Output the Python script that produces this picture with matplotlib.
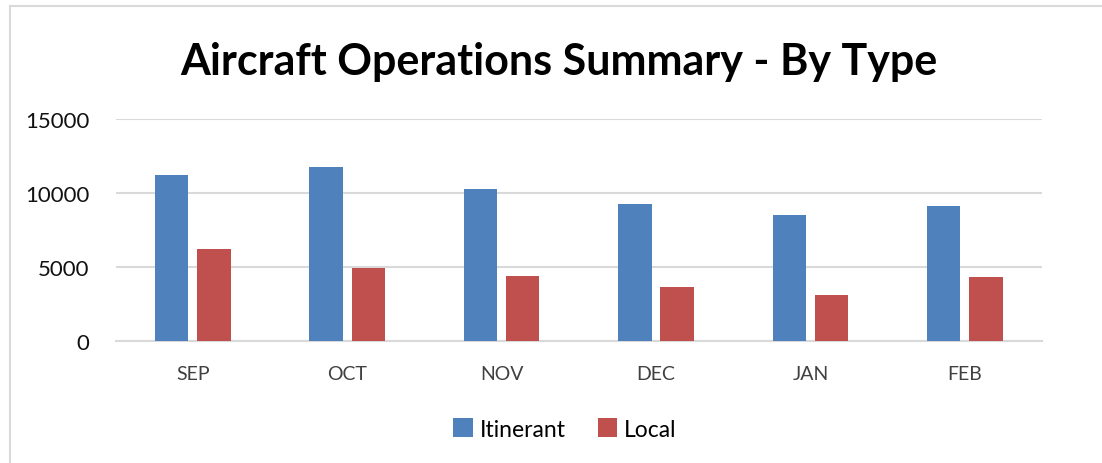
import matplotlib
matplotlib.use("Agg")
import matplotlib.pyplot as plt
import numpy as np

plt.rcParams['font.family'] = ['Lato', 'DejaVu Sans']

months = ['SEP', 'OCT', 'NOV', 'DEC', 'JAN', 'FEB']
itinerant = [11250, 11760, 10290, 9260, 8510, 9100]
local = [6250, 4930, 4390, 3650, 3090, 4360]
yticks = [0, 5000, 10000, 15000]

blue = '#4F81BD'
red = '#C0504D'

fig = plt.figure(figsize=(11.02, 4.64), dpi=100)
ax = fig.add_axes([0.105, 0.2623, 0.8405, 0.4791])

x = np.arange(len(months))
w = 0.216
off = 0.137
ax.bar(x - off, itinerant, w, color=blue, label='Itinerant', zorder=3)
ax.bar(x + off, local, w, color=red, label='Local', zorder=3)

ax.set_xlim(-0.5, len(months) - 0.5)
ax.set_ylim(0, 15000)
ax.set_yticks(yticks)
ax.set_yticklabels([str(t) for t in yticks], fontsize=16, color='#111111')
ax.set_xticks(x)
ax.set_xticklabels(months, fontsize=14, color='#404040')
ax.tick_params(axis='both', length=0)
ax.tick_params(axis='y', pad=19)
ax.tick_params(axis='x', pad=17)
ax.grid(axis='y', color='#d9d9d9', linewidth=1.5, zorder=0)
for s in ['top', 'right', 'left']:
    ax.spines[s].set_visible(False)
ax.spines['bottom'].set_color('#d9d9d9')
ax.spines['bottom'].set_linewidth(1.5)

fig.text(0.507, 0.866, 'Aircraft Operations Summary - By Type', ha='center', va='center',
         fontsize=31, fontweight='bold', color='black')

fig.legend(loc='center', bbox_to_anchor=(0.5125, 1 - 430 / 464), ncol=2, frameon=False,
           fontsize=16.5, handlelength=0.85, handleheight=0.85, handletextpad=0.3,
           columnspacing=1.4)

# light outer border (top and left only visible)
fig.add_artist(plt.Line2D([10 / 1102, 1], [1 - 7 / 464, 1 - 7 / 464], color='#d9d9d9', linewidth=1.5))
fig.add_artist(plt.Line2D([10 / 1102, 10 / 1102], [0, 1 - 7 / 464], color='#d9d9d9', linewidth=1.5))

fig.savefig('out.png', dpi=100)
